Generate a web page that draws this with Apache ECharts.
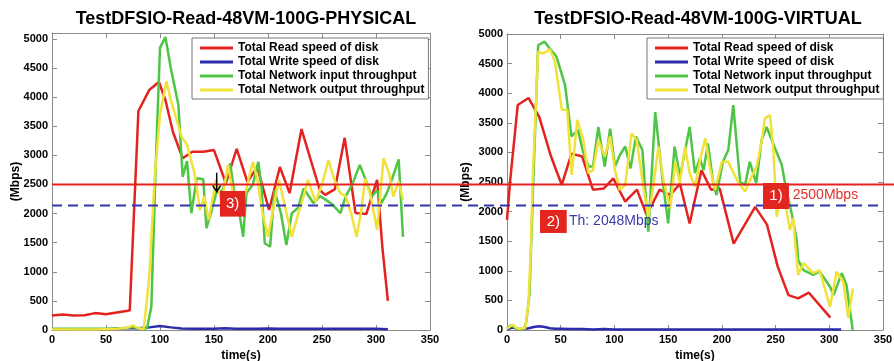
<!DOCTYPE html>
<html><head><meta charset="utf-8">
<script src="https://cdn.jsdelivr.net/npm/echarts@6/dist/echarts.min.js"></script>
<style>html,body{margin:0;padding:0;background:#fff}#c{width:894px;height:361px}</style>
</head><body><div id="c"></div>
<script>
const FONT = 'Liberation Sans, Arial, sans-serif';
const titles = ['TestDFSIO-Read-48VM-100G-PHYSICAL', 'TestDFSIO-Read-48VM-100G-VIRTUAL'];
const seriesNames = ['Total Read speed of disk', 'Total Write speed of disk', 'Total Network input throughput', 'Total Network output throughput'];
const seriesColors = ['#e3231f', '#2b2bab', '#4ec545', '#f0e23a'];
const xTickStep = 50, xMax = 350, yTickStep = 500;
const yMaxPhysical = 5100, yMaxVirtual = 5000;
const readLimit = 2500;      // 1) 2500Mbps line
const thresholdDrawn = 2140; // 2) Th: 2048Mbps dashed line (as drawn)

const phyRead = [[0,250],[10,265],[20,250],[30,255],[40,290],[50,270],[60,300],[70,330],[72,340],[80,3760],[90,4120],[99,4260],[105,3950],[112,3400],[121,2950],[130,3060],[140,3060],[150,3090],[161,2520],[171,3110],[181,2540],[190,2800],[201,2060],[211,2800],[220,2350],[231,3450],[248,2400],[253,2320],[262,2420],[271,3300],[281,2010],[291,1990],[301,2580],[306,1400],[311,500]];
const phyWrite = [[0,10],[10,10],[20,10],[30,15],[40,15],[50,15],[60,25],[70,30],[80,30],[90,45],[100,70],[110,45],[120,25],[130,20],[140,20],[150,20],[160,30],[170,20],[180,20],[190,20],[200,25],[210,20],[220,20],[230,20],[240,20],[250,20],[260,20],[270,20],[280,20],[290,20],[300,20],[311,15]];
const phyIn = [[0,20],[10,20],[20,20],[30,20],[40,20],[50,20],[60,25],[70,40],[75,50],[80,30],[85,20],[88,30],[92,400],[96,2800],[100,4850],[105,5030],[110,4500],[117,3870],[121,2630],[125,2900],[129,2005],[134,2606],[140,2590],[143,1750],[148,2060],[152,2350],[158,2400],[165,2860],[170,2200],[174,1950],[177,1600],[180,2350],[186,2500],[191,2890],[194,2460],[197,1490],[202,1430],[206,2400],[212,2000],[217,1460],[222,2005],[228,2100],[233,2430],[242,2180],[248,2300],[254,2230],[260,2150],[267,2005],[272,2300],[278,2500],[285,2835],[290,2600],[296,2290],[301,2400],[305,2180],[310,2350],[315,2600],[321,2930],[325,1600]];
const phyOut = [[0,10],[10,10],[20,10],[30,10],[40,10],[50,15],[60,20],[70,40],[75,80],[80,30],[85,15],[90,900],[95,2600],[100,3700],[106,4270],[110,3950],[114,3700],[120,3320],[125,3180],[132,2690],[137,2060],[141,2300],[145,1890],[152,2580],[157,2200],[163,2835],[168,2300],[174,2000],[179,2350],[186,2890],[190,2600],[195,2000],[200,1600],[205,2100],[210,2580],[216,2100],[222,1600],[228,2000],[233,2300],[237,2580],[244,2200],[250,2500],[256,2920],[261,2600],[267,2350],[272,2300],[277,2000],[282,1600],[286,2000],[290,2600],[295,2300],[301,1720],[307,2950],[312,2700],[316,2290],[321,2550],[325,2230]];

const virRead = [[0,1860],[3,2530],[10,3800],[20,3920],[30,3600],[41,2930],[51,2450],[60,2980],[70,2930],[80,2370],[90,2390],[99,2560],[110,2170],[121,2370],[130,1940],[142,2370],[152,2280],[161,2470],[170,1800],[181,2700],[190,2370],[198,2390],[211,1460],[231,2080],[242,1780],[252,1070],[262,590],[271,535],[281,630],[301,210]];
const virWrite = [[0,10],[5,40],[10,20],[15,15],[20,30],[25,50],[30,65],[35,50],[40,30],[45,20],[50,20],[60,15],[70,15],[80,10],[90,15],[100,10],[110,10],[120,10],[130,10],[140,10],[150,10],[160,10],[170,10],[180,10],[190,10],[200,10],[210,10],[220,10],[230,10],[240,10],[250,10],[260,10],[270,10],[280,10],[290,10],[300,10],[311,10]];
const virIn = [[0,30],[4,85],[8,30],[12,10],[16,20],[18,140],[21,620],[24.5,2530],[29,4810],[35,4870],[40,4750],[46,4620],[54,4140],[60,3270],[66,3380],[71,3000],[76,2760],[80,2760],[85,3430],[91,2760],[96,3400],[100.5,2760],[105,2950],[110,3100],[115,2730],[120,3270],[126,3040],[131.5,1660],[138,3680],[145,2500],[150,1800],[156,3100],[161,2590],[170,3430],[175,2650],[179.5,2900],[183,2700],[187,3150],[192,2480],[195,2280],[201,2840],[206,3040],[210.6,3800],[217,2500],[221.6,2450],[226,2840],[232,2480],[237,3210],[241.7,3430],[249.5,3070],[255.7,2790],[260,2370],[265,1970],[269.7,1520],[271,1180],[276,1010],[285,930],[291,990],[300.7,730],[304,590],[311.6,960],[316,760],[321.8,0]];
const virOut = [[0,20],[5,90],[10,20],[16.8,28],[20,450],[22,1300],[24,2600],[29,4700],[33.8,4670],[40,4740],[44.7,4530],[51,3720],[56,3720],[60.2,2620],[65.5,3550],[71,3210],[75.7,2650],[80,2700],[85,3210],[91,2930],[96,3270],[100.5,2700],[105,2370],[110,2450],[116,3320],[120.7,3210],[126.9,2420],[131.5,1910],[136,2400],[141,3100],[145.6,2530],[152,2055],[156.6,2840],[161,2480],[165.6,3100],[170,2650],[175,2420],[180,2900],[184.6,3240],[189,2730],[193.6,2365],[200,2840],[206,2840],[215,2500],[221.6,2340],[227.8,2590],[232.4,2760],[237,3180],[240,3575],[244.8,3630],[248,3040],[251,1910],[255,2300],[260,2030],[263.4,1690],[266.5,1890],[268,1520],[271,930],[276,1130],[285,960],[291,1010],[300.7,390],[306.8,985],[313,816],[317.7,200],[322,700]];

const AXC = '#8a8a8a';
const plain = v => String(Math.round(v));
function xAxes(g) {
  const base = {type:'value', gridIndex:g, min:0, max:xMax, interval:xTickStep, splitLine:{show:false},
    axisLine:{show:true, onZero:false, lineStyle:{color:AXC, width:1}},
    axisTick:{show:true, inside:true, length:5, lineStyle:{color:AXC}}};
  return [
    Object.assign({}, base, {position:'bottom', name:'time(s)', nameLocation:'middle', nameGap:20, nameMoveOverlap:false,
      nameTextStyle:{color:'#000', fontWeight:'bold', fontSize:12, fontFamily:FONT},
      axisLabel:{color:'#000', fontWeight:'bold', fontSize:11, fontFamily:FONT, margin:4, formatter:plain}}),
    Object.assign({}, base, {position:'top', axisLabel:{show:false}})
  ];
}
function yAxes(g, ymax, showMax, gap) {
  const base = {type:'value', gridIndex:g, min:0, max:ymax, interval:yTickStep, splitLine:{show:false},
    axisLine:{show:true, onZero:false, lineStyle:{color:AXC, width:1}},
    axisTick:{show:true, inside:true, length:5, lineStyle:{color:AXC}}};
  return [
    Object.assign({}, base, {position:'left', name:'(Mbps)', nameLocation:'middle', nameGap:gap, nameMoveOverlap:false,
      nameTextStyle:{color:'#000', fontWeight:'bold', fontSize:12, fontFamily:FONT},
      axisLabel:{color:'#000', fontWeight:'bold', fontSize:11, fontFamily:FONT, margin:4, showMaxLabel:showMax, formatter:plain}}),
    Object.assign({}, base, {position:'right', axisLabel:{show:false}})
  ];
}
function mkSeries(data, i, g) {
  return {type:'line', name:seriesNames[i], xAxisIndex:g*2, yAxisIndex:g*2, data:data,
    showSymbol:false, symbol:'none', lineStyle:{width:2.5, color:seriesColors[i]}, itemStyle:{color:seriesColors[i]}, z:2+i};
}
function mkLegend(left) {
  return {left:left, top:38, orient:'vertical', backgroundColor:'#fff', borderColor:'#777', borderWidth:1,
    padding:[4,4,3,8], itemWidth:33, itemHeight:3, itemGap:2,
    textStyle:{color:'#000', fontWeight:'bold', fontSize:12, fontFamily:FONT},
    data: seriesNames.map(n => ({name:n, icon:'rect'}))};
}

const chart = echarts.init(document.getElementById('c'), null, {renderer:'canvas'});
const option = {
  animation:false,
  backgroundColor:'#fff',
  title:[
    {text:titles[0], left:241, top:5, textAlign:'center', textStyle:{fontSize:18, fontWeight:'bold', color:'#000', fontFamily:FONT}},
    {text:titles[1], left:693, top:5, textAlign:'center', textStyle:{fontSize:18, fontWeight:'bold', color:'#000', fontFamily:FONT}}
  ],
  legend:[mkLegend(192), mkLegend(647)],
  grid:[
    {left:52, top:33, width:378, height:297, outerBoundsMode:'none', containLabel:false},
    {left:507, top:34, width:376, height:296, outerBoundsMode:'none', containLabel:false}
  ],
  xAxis:[...xAxes(0), ...xAxes(1)],
  yAxis:[...yAxes(0, yMaxPhysical, false, 30), ...yAxes(1, yMaxVirtual, true, 35)],
  series:[
    mkSeries(phyRead,0,0), mkSeries(phyWrite,1,0), mkSeries(phyIn,2,0), mkSeries(phyOut,3,0),
    mkSeries(virRead,0,1), mkSeries(virWrite,1,1), mkSeries(virIn,2,1), mkSeries(virOut,3,1)
  ]
};
chart.setOption(option);

const px = (ax, v) => chart.convertToPixel({xAxisIndex:ax}, v);
const py = (ax, v) => chart.convertToPixel({yAxisIndex:ax}, v);
const yRed = py(0, readLimit), yDash = py(0, thresholdDrawn);
const boxStyle = {fill:'#e2261f'};
function box(xa, ya, x0, x1, v0, v1, label) {
  const X0 = px(xa, x0), X1 = px(xa, x1), Y0 = py(ya, v0), Y1 = py(ya, v1);
  return [
    {type:'rect', z:100, shape:{x:X0, y:Y0, width:X1-X0, height:Y1-Y0}, style:boxStyle},
    {type:'text', z:101, x:(X0+X1)/2, y:(Y0+Y1)/2, style:{text:label, fill:'#fff', font:'15px ' + FONT, align:'center', verticalAlign:'middle'}}
  ];
}
const arrowX = px(0, 152.5), arrowTop = py(0, 2700), arrowBot = py(0, 2375);
chart.setOption({graphic:[
  {type:'line', z:99, shape:{x1:px(0,0), y1:yRed, x2:894, y2:yRed}, style:{stroke:'#e3231f', lineWidth:2}},
  {type:'line', z:99, shape:{x1:px(0,0), y1:yDash, x2:px(2,xMax)+1, y2:yDash}, style:{stroke:'#3434b4', lineWidth:2, lineDash:[10,6]}},
  {type:'line', z:102, shape:{x1:arrowX, y1:arrowTop, x2:arrowX, y2:arrowBot}, style:{stroke:'#000', lineWidth:1.5}},
  {type:'polyline', z:102, shape:{points:[[arrowX-4, arrowBot-6],[arrowX, arrowBot],[arrowX+4, arrowBot-6]]}, style:{stroke:'#000', lineWidth:1.5, fill:null}},
  ...box(0, 0, 155.5, 179, 2388, 1947, '3)'),
  ...box(2, 2, 30.7, 55.6, 2027, 1639, '2)'),
  {type:'text', z:101, x:px(2, 57.7), y:py(2, 1841), style:{text:'Th: 2048Mbps', fill:'#3b3bad', font:'14px ' + FONT, verticalAlign:'middle'}},
  ...box(2, 2, 238.3, 262.5, 2483, 2044, '1)'),
  {type:'text', z:101, x:px(2, 266), y:py(2, 2280), style:{text:'2500Mbps', fill:'#e0302a', font:'14px ' + FONT, verticalAlign:'middle'}}
]});
</script>
</body></html>
